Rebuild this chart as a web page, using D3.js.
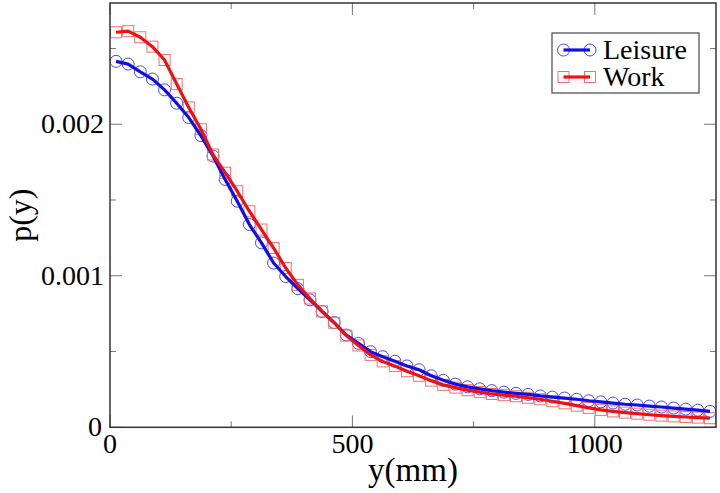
<!DOCTYPE html>
<html>
<head>
<meta charset="utf-8">
<script src="https://cdn.jsdelivr.net/npm/d3@7"></script>
</head>
<body style="margin:0">
<svg id="chart" width="720" height="493"></svg>
<script>
// ---- data ----
const binCenters = [12.5, 37.5, 62.5, 87.5, 112.5, 137.5, 162.5, 187.5, 212.5, 237.5,
  262.5, 287.5, 312.5, 337.5, 362.5, 387.5, 412.5, 437.5, 462.5, 487.5,
  512.5, 537.5, 562.5, 587.5, 612.5, 637.5, 662.5, 687.5, 712.5, 737.5,
  762.5, 787.5, 812.5, 837.5, 862.5, 887.5, 912.5, 937.5, 962.5, 987.5,
  1012.5, 1037.5, 1062.5, 1087.5, 1112.5, 1137.5, 1162.5, 1187.5, 1212.5, 1237.5];

const leisure = [0.002415, 0.002397, 0.002346, 0.002298, 0.002227, 0.002139, 0.002044, 0.001925, 0.00179, 0.001636,
  0.001492, 0.001338, 0.001217, 0.001084, 0.000995, 0.000915, 0.000841, 0.000764, 0.000691, 0.000609,
  0.000554, 0.000499, 0.000466, 0.000436, 0.000405, 0.00038, 0.00034, 0.00031, 0.000285, 0.000267,
  0.000254, 0.000242, 0.000232, 0.000224, 0.000217, 0.000207, 0.000199, 0.000193, 0.000185, 0.000175,
  0.000168, 0.00016, 0.000152, 0.000147, 0.00014, 0.000134, 0.000127, 0.00012, 0.000113, 0.000105];

const work = [0.002607, 0.002614, 0.002574, 0.002512, 0.002424, 0.002265, 0.002111, 0.001967, 0.0018, 0.00168,
  0.001558, 0.001426, 0.001305, 0.001183, 0.001051, 0.00094, 0.00085, 0.000765, 0.00069, 0.000605,
  0.00054, 0.000478, 0.000435, 0.000405, 0.00037, 0.00034, 0.000308, 0.00028, 0.000262, 0.000245,
  0.000232, 0.00022, 0.000212, 0.000205, 0.000195, 0.000185, 0.000172, 0.000158, 0.000143, 0.000128,
  0.000115, 0.000105, 0.000097, 0.00009, 0.000083, 0.000077, 0.000072, 0.000068, 0.000064, 0.00006];

const seriesNames = ["Leisure", "Work"];
const xMajorTicks = [0, 500, 1000];
const xMinorTicks = [250, 750];
const yMajorTicks = [0, 0.001, 0.002];
const yMinorTicks = [0.0005, 0.0015, 0.0025];
const yTickLabels = ["0", "0.001", "0.002"];
const xTitle = "y(mm)";
const yTitle = "p(y)";

// ---- layout ----
const svg = d3.select("#chart");
const L = 110, R = 716, T = 3, B = 427.3;
const x = d3.scaleLinear().domain([0, 1250]).range([L, R]);
const y = d3.scaleLinear().domain([0, 0.0028]).range([B, T]);

// ticks (inward, mirrored on all sides)
const tickG = svg.append("g").attr("stroke", "#777").attr("stroke-width", 1);
function vTick(v, len) {
  tickG.append("line").attr("x1", x(v)).attr("x2", x(v)).attr("y1", B).attr("y2", B - len);
  tickG.append("line").attr("x1", x(v)).attr("x2", x(v)).attr("y1", T).attr("y2", T + len);
}
function hTick(v, len) {
  tickG.append("line").attr("y1", y(v)).attr("y2", y(v)).attr("x1", L).attr("x2", L + len);
  tickG.append("line").attr("y1", y(v)).attr("y2", y(v)).attr("x1", R).attr("x2", R - len);
}
xMajorTicks.forEach(v => vTick(v, 12));
xMinorTicks.forEach(v => vTick(v, 6));
yMajorTicks.forEach(v => hTick(v, 12));
yMinorTicks.forEach(v => hTick(v, 6));

function addText(sel) {
  return sel.style("font-family", '"Times New Roman"');
}

// tick labels
svg.append("g").selectAll("text").data(xMajorTicks).join("text")
  .attr("x", d => x(d)).attr("y", 453).attr("text-anchor", "middle")
  .attr("font-size", 28).call(addText).text(d => d);
svg.append("g").selectAll("text").data(yMajorTicks).join("text")
  .attr("x", (d, i) => i === 0 ? 102 : 104).attr("y", d => y(d) + 9).attr("text-anchor", "end")
  .attr("font-size", 28).call(addText).text((d, i) => yTickLabels[i]);

// axis titles
svg.append("text").attr("x", (L + R) / 2).attr("y", 481).attr("text-anchor", "middle")
  .attr("font-size", 33).call(addText).text(xTitle);
svg.append("text").attr("transform", `translate(31,${(T + B) / 2}) rotate(-90)`)
  .attr("text-anchor", "middle").attr("font-size", 32).call(addText).text(yTitle);

// data
const series = [
  { name: seriesNames[0], values: leisure, line: "#1010e6", mark: "#4848f0", shape: "circle" },
  { name: seriesNames[1], values: work, line: "#f01010", mark: "#f07070", shape: "square" }
];

const lineGen = d3.line().x((d, i) => x(binCenters[i])).y(d => y(d));

function drawMarker(g, shape, cx, cy, color) {
  if (shape === "circle") {
    g.append("circle").attr("cx", cx).attr("cy", cy).attr("r", 6)
      .attr("fill", "none").attr("stroke", color).attr("stroke-width", 1);
  } else {
    g.append("rect").attr("x", cx - 5.5).attr("y", cy - 5.5).attr("width", 11).attr("height", 11)
      .attr("fill", "none").attr("stroke", color).attr("stroke-width", 1);
  }
}

const plot = svg.append("svg").attr("x", L).attr("y", T).attr("width", R - L).attr("height", B - T)
  .attr("viewBox", `${L} ${T} ${R - L} ${B - T}`).attr("overflow", "hidden");

series.forEach(s => {
  const mg = plot.append("g");
  s.values.forEach((v, i) => drawMarker(mg, s.shape, x(binCenters[i]), y(v), s.mark));
});
series.forEach(s => {
  plot.append("path").datum(s.values).attr("d", lineGen)
    .attr("fill", "none").attr("stroke", s.line).attr("stroke-width", 3.2)
    .attr("stroke-linejoin", "round");
});

// frame
svg.append("rect").attr("x", L).attr("y", T).attr("width", R - L).attr("height", B - T)
  .attr("fill", "none").attr("stroke", "#333").attr("stroke-width", 1.5);

// legend
const lg = svg.append("g");
lg.append("rect").attr("x", 552).attr("y", 33).attr("width", 147).attr("height", 60)
  .attr("fill", "#fff").attr("stroke", "#555").attr("stroke-width", 1.3);
series.forEach((s, i) => {
  const ly = 50 + i * 27;
  drawMarker(lg, s.shape, 563.5, ly, s.mark);
  drawMarker(lg, s.shape, 590, ly, s.mark);
  lg.append("line").attr("x1", 563.5).attr("x2", 590).attr("y1", ly).attr("y2", ly)
    .attr("stroke", s.line).attr("stroke-width", 3.2);
  lg.append("text").attr("x", 603).attr("y", ly + 9)
    .attr("font-size", 28).call(addText).text(s.name);
});
</script>
</body>
</html>
